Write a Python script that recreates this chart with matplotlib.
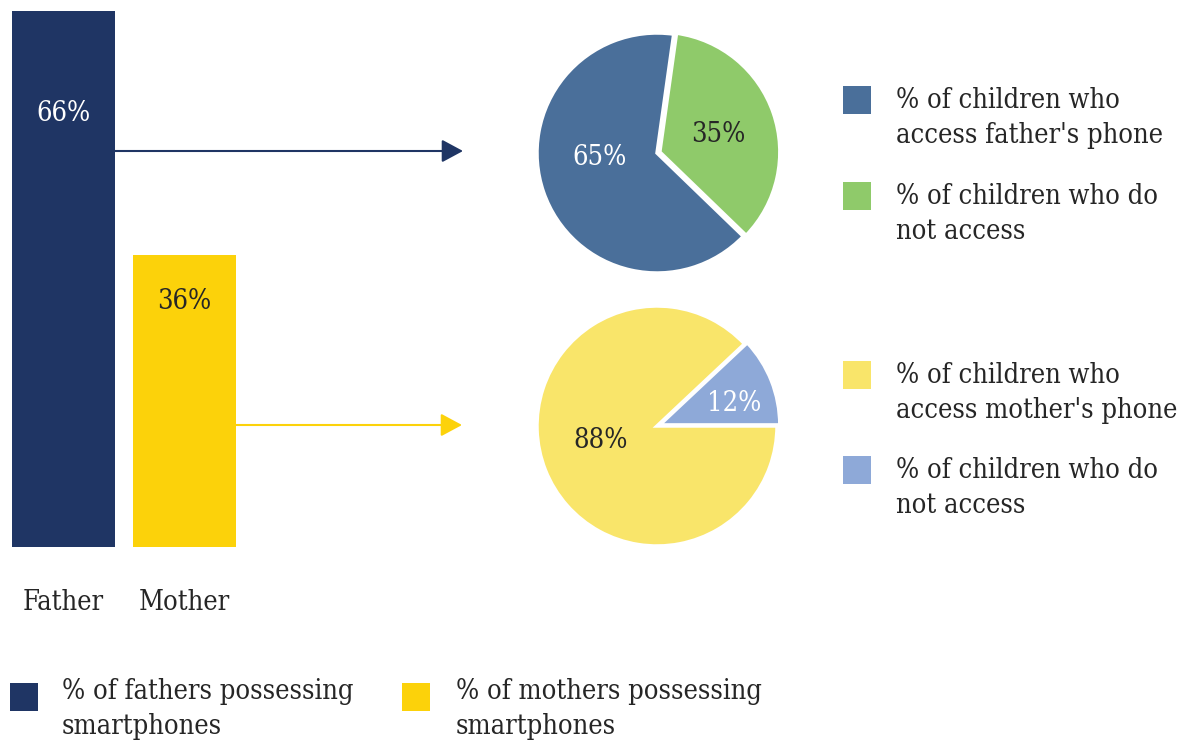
import matplotlib
matplotlib.use("Agg")
import matplotlib.pyplot as plt
from matplotlib.patches import Rectangle

# ---- data ----
parents = ["Father", "Mother"]
smartphone_share = [66, 36]
bar_labels = ["66%", "36%"]

father_access = [65, 35]
father_access_labels = ["65%", "35%"]
mother_access = [88, 12]
mother_access_labels = ["88%", "12%"]

legend_father_pie = ["% of children who\naccess father's phone", "% of children who do\nnot access"]
legend_mother_pie = ["% of children who\naccess mother's phone", "% of children who do\nnot access"]
legend_bars = ["% of fathers possessing\nsmartphones", "% of mothers possessing\nsmartphones"]

# ---- style ----
NAVY = "#1F3564"
GOLD = "#FCD20A"
STEEL = "#4A6F9A"
GREEN = "#8FCA6A"
PALE_YELLOW = "#F9E56A"
PALE_BLUE = "#8EA9D8"
TEXT = "#262626"
FONT = ["DejaVu Serif"]
plt.rcParams["font.family"] = FONT
FS = 19.5

W, H = 1185, 740
fig = plt.figure(figsize=(W / 100, H / 100), dpi=100)
fig.patch.set_facecolor("white")


def fig_box(x0, y0, x1, y1):
    """Pixel box (top-left origin) -> figure fraction rect."""
    return [x0 / W, (H - y1) / H, (x1 - x0) / W, (y1 - y0) / H]


# ---- bar chart ----
px_per_unit = 8.12
axb = fig.add_axes(fig_box(0, 0, 250, 547))
axb.bar([0, 1], smartphone_share, width=103 / 121, color=[NAVY, GOLD])
axb.set_xlim(-63.5 / 121, (250 - 63.5) / 121)
axb.set_ylim(0, 547 / px_per_unit)
axb.axis("off")
axb.text(0, smartphone_share[0] - 12.6, bar_labels[0], ha="center", va="center",
         color="white", fontsize=FS, fontstretch="condensed")
axb.text(1, smartphone_share[1] - 5.8, bar_labels[1], ha="center", va="center",
         color=TEXT, fontsize=FS, fontstretch="condensed")

# ---- overlay for arrows, category names and legends ----
ov = fig.add_axes([0, 0, 1, 1])
ov.set_xlim(0, W)
ov.set_ylim(H, 0)
ov.axis("off")
ov.patch.set_alpha(0)

for name, x in zip(parents, [63.5, 184.5]):
    ov.text(x, 602, name, ha="center", va="center", color=TEXT, fontsize=FS,
            fontstretch="condensed")

arrow_style = "-|>,head_length=1.3,head_width=0.7"
ov.annotate("", xy=(463, 151), xytext=(115, 151),
            arrowprops=dict(arrowstyle=arrow_style, color=NAVY, lw=1.5,
                            shrinkA=0, shrinkB=0))
ov.annotate("", xy=(462, 425), xytext=(236, 425),
            arrowprops=dict(arrowstyle=arrow_style, color=GOLD, lw=1.5,
                            shrinkA=0, shrinkB=0))


def legend_item(x, y, color, label, tx, dy=1):
    ov.add_patch(Rectangle((x, y), 28, 28, color=color, lw=0))
    ov.text(tx, y + dy, label, ha="left", va="top", color=TEXT, fontsize=FS,
            linespacing=1.38, fontstretch="condensed")


legend_item(843, 86, STEEL, legend_father_pie[0], 896)
legend_item(843, 182, GREEN, legend_father_pie[1], 896)
legend_item(843, 361, PALE_YELLOW, legend_mother_pie[0], 896)
legend_item(843, 456, PALE_BLUE, legend_mother_pie[1], 896)
legend_item(10, 683, NAVY, legend_bars[0], 62, dy=-5)
legend_item(402, 683, GOLD, legend_bars[1], 456, dy=-5)

# ---- father pie ----
axp1 = fig.add_axes(fig_box(537, 33, 777, 273))
axp1.pie(father_access, colors=[STEEL, GREEN], startangle=-44,
         counterclock=False, explode=[0, 0.025],
         wedgeprops=dict(edgecolor="white", linewidth=2.5, clip_on=False))
axp1.set_xlim(-1.0, 1.0)
axp1.set_ylim(-1.0, 1.0)
axp1.set_aspect("equal")
axp1.text(-0.48, -0.04, father_access_labels[0], ha="center", va="center",
          color="white", fontsize=FS, fontstretch="condensed")
axp1.text(0.51, 0.15, father_access_labels[1], ha="center", va="center",
          color=TEXT, fontsize=FS, fontstretch="condensed")

# ---- mother pie ----
axp2 = fig.add_axes(fig_box(537, 306, 777, 546))
axp2.pie(mother_access, colors=[PALE_YELLOW, PALE_BLUE], startangle=43.2,
         counterclock=True, explode=[0, 0.025],
         wedgeprops=dict(edgecolor="white", linewidth=2.5, clip_on=False))
axp2.set_xlim(-1.0, 1.0)
axp2.set_ylim(-1.0, 1.0)
axp2.set_aspect("equal")
axp2.text(-0.47, -0.12, mother_access_labels[0], ha="center", va="center",
          color=TEXT, fontsize=FS, fontstretch="condensed")
axp2.text(0.64, 0.19, mother_access_labels[1], ha="center", va="center",
          color="white", fontsize=FS, fontstretch="condensed")

fig.savefig("out.png", dpi=100, facecolor="white")
